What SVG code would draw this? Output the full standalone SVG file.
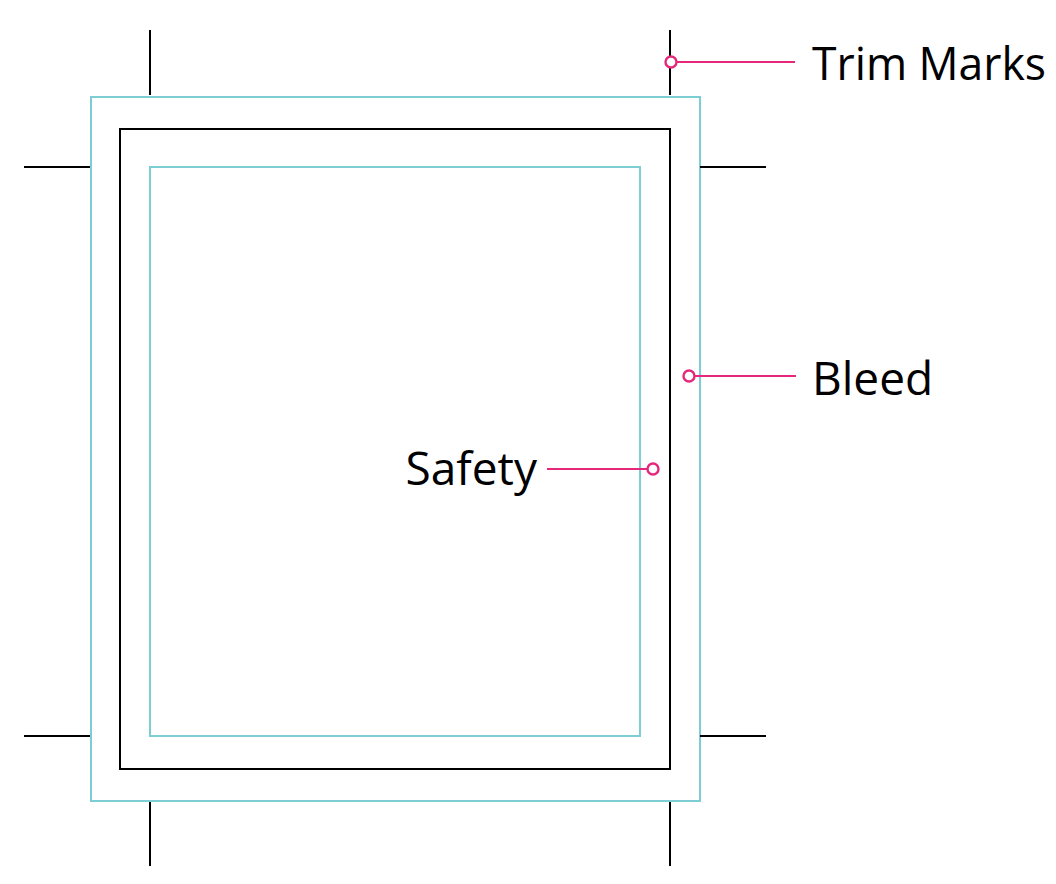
<svg xmlns="http://www.w3.org/2000/svg" width="1056" height="884" viewBox="0 0 1056 884">
<style>
.bleed{fill:none;stroke:#7ccdd4;stroke-width:2}
.trim{fill:none;stroke:#000;stroke-width:2}
.mark{stroke:#000;stroke-width:2}
.lead{stroke:#e6287c;stroke-width:2;fill:none}
.dot{fill:#fff;stroke:#e6287c;stroke-width:2.4}
.lbl{font-family:"Open Sans","Liberation Sans",sans-serif;font-size:46px;fill:#000}
</style>
<rect width="1056" height="884" fill="#fff"/>
<g id="bleed"><rect class="bleed" x="91" y="97" width="609" height="704"/></g>
<g id="trim"><rect class="trim" x="120" y="129" width="550" height="640"/></g>
<g id="safety"><rect class="bleed" x="150" y="167" width="490" height="569"/></g>
<g id="trim-marks">
<line class="mark" x1="150" y1="30" x2="150" y2="95"/>
<line class="mark" x1="670" y1="30" x2="670" y2="95"/>
<line class="mark" x1="150" y1="802" x2="150" y2="866"/>
<line class="mark" x1="670" y1="802" x2="670" y2="866"/>
<line class="mark" x1="24" y1="167" x2="90" y2="167"/>
<line class="mark" x1="700" y1="167" x2="766" y2="167"/>
<line class="mark" x1="24" y1="736" x2="90" y2="736"/>
<line class="mark" x1="700" y1="736" x2="766" y2="736"/>
</g>
<g id="connectors">
<line class="lead" x1="676" y1="62" x2="795" y2="62"/>
<circle class="dot" cx="671" cy="62" r="5.5"/>
<line class="lead" x1="695" y1="376" x2="796" y2="376"/>
<circle class="dot" cx="689" cy="376" r="5.5"/>
<line class="lead" x1="547" y1="469" x2="648" y2="469"/>
<circle class="dot" cx="653" cy="469" r="5.5"/>
</g>
<g id="label-trim"><text class="lbl" x="812" y="80" textLength="234" lengthAdjust="spacingAndGlyphs">Trim Marks</text></g>
<g id="label-bleed"><text class="lbl" x="812" y="395">Bleed</text></g>
<g id="label-safety"><text class="lbl" x="537" y="485" text-anchor="end">Safety</text></g>
</svg>
